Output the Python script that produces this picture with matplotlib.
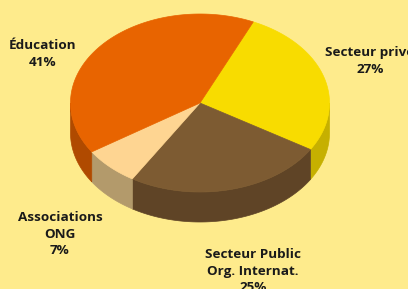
import numpy as np
import matplotlib
matplotlib.use("Agg")
import matplotlib.pyplot as plt
from matplotlib.patches import Polygon

labels = ["Secteur privé\n27%", "Secteur Public\nOrg. Internat.\n25%",
          "Associations\nONG\n7%", "Éducation\n41%"]
values = [27, 25, 7, 41]
top_colors = ["#F8DC00", "#7D5B32", "#FED592", "#E86400"]
side_colors = ["#C6B000", "#5F4426", "#B39A6B", "#B04A00"]
label_pos = [(370, 61), (253, 271), (60, 234), (43, 54)]

bg = "#FEEB8C"
W, H = 408, 289
fig = plt.figure(figsize=(W / 100, H / 100), dpi=100, facecolor=bg)
ax = fig.add_axes([0, 0, 1, 1])
ax.set_xlim(0, W)
ax.set_ylim(H, 0)
ax.axis("off")
ax.set_facecolor(bg)

cx, cy, rx, ry, depth = 200, 103, 129.5, 89, 30
start = 65.7
vals = np.array(values, dtype=float)
angles = start - 360 * np.concatenate([[0], np.cumsum(vals) / vals.sum()])

def pt(t, dy=0.0):
    r = np.radians(t)
    return np.column_stack([cx + rx * np.cos(r), cy - ry * np.sin(r) + dy])

# sides
for i in range(len(values)):
    a0, a1 = angles[i], angles[i + 1]
    lo, hi = max(a1, -180), min(a0, 0)
    if hi > lo:
        t = np.linspace(lo, hi, 120)
        arc = pt(t)
        arc2 = pt(t[::-1], depth)
        poly = Polygon(np.vstack([arc, arc2]), closed=True, facecolor=side_colors[i],
                       edgecolor=side_colors[i], lw=0.5)
        ax.add_patch(poly)

# tops
for i in range(len(values)):
    a0, a1 = angles[i], angles[i + 1]
    t = np.linspace(a0, a1, 200)
    pts = np.vstack([[cx, cy], pt(t)])
    ax.add_patch(Polygon(pts, closed=True, facecolor=top_colors[i],
                         edgecolor=top_colors[i], lw=0.5))

for lab, (x, y) in zip(labels, label_pos):
    ax.text(x, y, lab, ha="center", va="center", fontsize=9.7, fontweight="bold",
            family="Open Sans", color="#1a1a1a", linespacing=1.38)

fig.savefig("out.png", dpi=100, facecolor=bg)
